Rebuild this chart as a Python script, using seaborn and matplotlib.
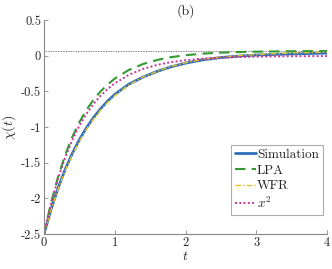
import numpy as np
import pandas as pd
import matplotlib
matplotlib.use('Agg')
import matplotlib.pyplot as plt
import seaborn as sns

# values
t = [0, 0.1, 0.2, 0.3, 0.4, 0.5, 0.6, 0.7, 0.8, 0.9, 1.0, 1.2, 1.4, 1.6, 1.8,
     2.0, 2.25, 2.5, 2.75, 3.0, 3.5, 4.0]
simulation = [-2.5, -2.152, -1.853, -1.594, -1.371, -1.178, -1.012, -0.868, -0.744,
              -0.636, -0.544, -0.40, -0.30, -0.22, -0.155, -0.105, -0.058, -0.026,
              -0.006, 0.009, 0.025, 0.036]
lpa = [-2.5, -2.059, -1.693, -1.390, -1.139, -0.932, -0.760, -0.618, -0.501, -0.403,
       -0.322, -0.200, -0.117, -0.060, -0.020, 0.006, 0.029, 0.042, 0.051, 0.056,
       0.062, 0.065]
wfr = [-2.5, -2.161, -1.866, -1.611, -1.389, -1.197, -1.031, -0.887, -0.762, -0.654,
       -0.560, -0.408, -0.30, -0.22, -0.15, -0.10, -0.052, -0.021, 0.0, 0.015,
       0.038, 0.048]
xsq = [-2.5, -2.073, -1.720, -1.427, -1.183, -0.982, -0.815, -0.676, -0.562, -0.467,
       -0.388, -0.268, -0.186, -0.129, -0.090, -0.064, -0.042, -0.028, -0.019, -0.014,
       -0.008, -0.006]
steady = 0.065

yticks = [-2.5, -2, -1.5, -1, -0.5, 0, 0.5]
ytick_labels = ['-2.5', '-2', '-1.5', '-1', '-0.5', '0', '0.5']
xticks = [0, 1, 2, 3, 4]

df = pd.DataFrame({'t': t, 'Simulation': simulation, 'LPA': lpa, 'WFR': wfr, 'xsq': xsq})

sns.set_style('white')
plt.rcParams['font.family'] = ['cmr10', 'DejaVu Serif']
plt.rcParams['mathtext.fontset'] = 'cm'
plt.rcParams['axes.unicode_minus'] = False

fig = plt.figure(figsize=(3.32, 2.69), dpi=100)
ax = fig.add_axes([0.1325, 0.130, 0.8525, 0.7957])

ax.axhline(steady, color='#555555', lw=0.6, ls=(0, (1, 1)), zorder=1)

sns.lineplot(data=df, x='t', y='Simulation', ax=ax, color='#2f6eba', lw=2.0,
             label='Simulation')
sns.lineplot(data=df, x='t', y='LPA', ax=ax, color='#339933', lw=1.5,
             dashes=False, label='LPA', linestyle=(0, (5, 3)))
sns.lineplot(data=df, x='t', y='WFR', ax=ax, color='#e6c229', lw=1.0,
             label='WFR', linestyle=(0, (4, 1.5, 1, 1.5)))
sns.lineplot(data=df, x='t', y='xsq', ax=ax, color='#cc3399', lw=1.4,
             label='$x^2$', linestyle=(0, (1, 1.2)))

ax.set_xlim(0, 4)
ax.set_ylim(-2.5, 0.5)
ax.set_xticks(xticks)
ax.set_xticklabels([str(v) for v in xticks])
ax.set_yticks(yticks)
ax.set_yticklabels(ytick_labels)
ax.tick_params(direction='in', length=3, width=0.6, color='#888888',
               labelsize=9, pad=2, left=True, bottom=True)
for side in ['top', 'right']:
    ax.spines[side].set_visible(False)
for side in ['left', 'bottom']:
    ax.spines[side].set_color('#888888')
    ax.spines[side].set_linewidth(0.8)

ax.set_xlabel('$t$', fontsize=10, labelpad=1)
ax.set_ylabel(r'$\chi(t)$', fontsize=10, labelpad=2)
ax.set_title('(b)', fontsize=10, pad=4)

leg = ax.legend(loc='lower right', bbox_to_anchor=(0.985, 0.09), fontsize=9.5,
                frameon=True, fancybox=False, handlelength=1.6, handletextpad=0.1,
                borderpad=0.3, labelspacing=0.25, borderaxespad=0)
leg.get_frame().set_edgecolor('#999999')
leg.get_frame().set_linewidth(0.8)

fig.savefig('out.png', dpi=100)
